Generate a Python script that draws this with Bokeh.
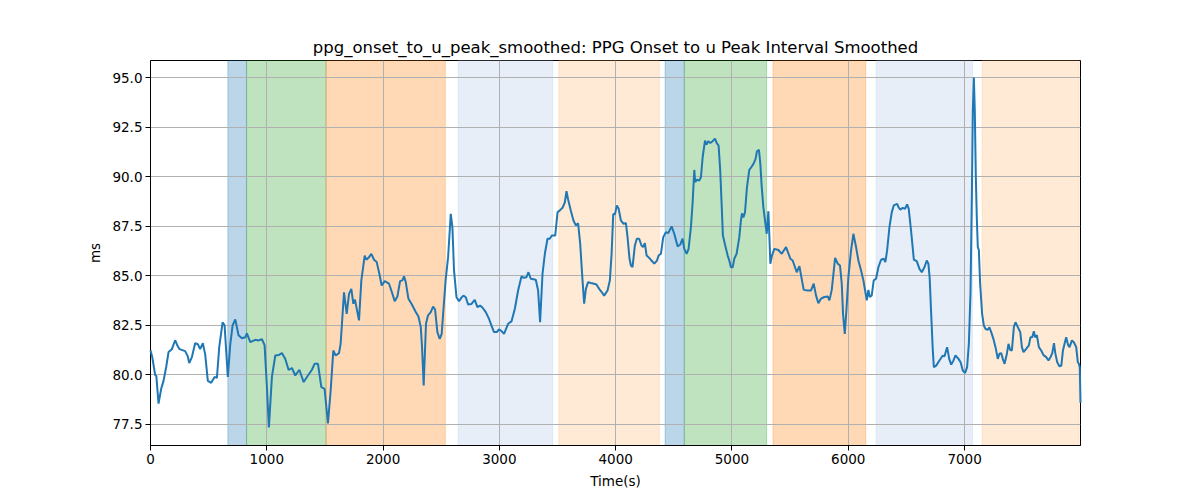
from bokeh.plotting import figure
from bokeh.models import BoxAnnotation, FixedTicker, Range1d, PrintfTickFormatter
from bokeh.embed import file_html
from bokeh.resources import INLINE

# Time (s) and smoothed interval (ms)
time_s = [0, 15, 40, 50, 69, 92, 112, 135, 155, 184, 212, 230, 250, 298, 320, 333, 356, 384, 407, 427,
          450, 470, 493, 522, 551, 571, 591, 620, 637, 665, 686, 706, 729, 757, 786, 815, 829, 858, 901, 929,
          958, 981, 1001, 1018, 1044, 1073, 1102, 1130, 1159, 1188, 1216, 1245, 1280, 1317, 1354, 1388, 1411, 1440, 1469, 1497,
          1526, 1549, 1572, 1592, 1621, 1635, 1664, 1687, 1707, 1727, 1744, 1758, 1793, 1813, 1842, 1856, 1879, 1899, 1922, 1945,
          1965, 1988, 2014, 2051, 2071, 2100, 2123, 2146, 2166, 2180, 2195, 2218, 2244, 2281, 2304, 2324, 2335, 2349, 2369, 2386,
          2410, 2430, 2447, 2467, 2487, 2504, 2519, 2539, 2559, 2582, 2596, 2610, 2631, 2653, 2674, 2691, 2711, 2731, 2760, 2788,
          2811, 2834, 2854, 2883, 2911, 2932, 2954, 2978, 2997, 3020, 3040, 3075, 3104, 3133, 3161, 3190, 3209, 3233, 3250, 3270,
          3313, 3333, 3350, 3371, 3391, 3414, 3433, 3451, 3480, 3500, 3520, 3543, 3563, 3577, 3591, 3614, 3637, 3657, 3677, 3695,
          3715, 3729, 3744, 3763, 3786, 3815, 3835, 3858, 3881, 3901, 3930, 3950, 3965, 3979, 3994, 4010, 4025, 4045, 4068, 4088,
          4102, 4119, 4131, 4145, 4165, 4182, 4202, 4222, 4236, 4251, 4266, 4289, 4308, 4332, 4355, 4369, 4389, 4409, 4432, 4452,
          4481, 4504, 4533, 4556, 4575, 4590, 4610, 4627, 4647, 4661, 4676, 4684, 4699, 4719, 4733, 4748, 4768, 4782, 4796, 4814,
          4834, 4854, 4868, 4885, 4899, 4911, 4922, 4942, 4963, 4977, 4991, 5006, 5020, 5040, 5063, 5077, 5086, 5098, 5112, 5129,
          5149, 5169, 5187, 5203, 5215, 5232, 5244, 5256, 5270, 5284, 5299, 5313, 5322, 5330, 5344, 5364, 5399, 5428, 5465, 5502,
          5522, 5557, 5580, 5617, 5651, 5680, 5703, 5723, 5743, 5766, 5794, 5823, 5838, 5858, 5887, 5910, 5929, 5944, 5955, 5970,
          5984, 6001, 6024, 6044, 6067, 6087, 6110, 6130, 6145, 6159, 6173, 6185, 6202, 6219, 6239, 6259, 6282, 6305, 6319, 6334,
          6354, 6374, 6391, 6420, 6432, 6448, 6468, 6488, 6506, 6520, 6540, 6564, 6589, 6612, 6632, 6655, 6675, 6689, 6700, 6713,
          6727, 6736, 6756, 6784, 6813, 6827, 6850, 6868, 6885, 6905, 6922, 6948, 6966, 6985, 7005, 7022, 7037, 7051, 7063, 7071,
          7080, 7088, 7097, 7106, 7114, 7123, 7134, 7151, 7166, 7180, 7200, 7214, 7229, 7248, 7266, 7286, 7300, 7315, 7329, 7344,
          7364, 7378, 7392, 7407, 7424, 7438, 7458, 7479, 7493, 7507, 7530, 7553, 7567, 7582, 7596, 7607, 7622, 7639, 7659, 7679,
          7702, 7722, 7740, 7754, 7769, 7780, 7797, 7817, 7832, 7846, 7860, 7874, 7889, 7903, 7923, 7940, 7960, 7974, 7983, 7991,
          7997]
interval_ms = [81.25, 80.9, 80.0, 79.95, 78.55, 79.3, 79.7, 80.4, 81.15, 81.3, 81.75, 81.5, 81.3, 81.2, 80.95, 80.6, 80.9, 81.6, 81.55, 81.3,
               81.6, 81.05, 79.7, 79.6, 79.9, 79.85, 81.4, 82.65, 82.5, 79.9, 81.55, 82.5, 82.8, 82.0, 81.85, 81.9, 82.1, 81.65, 81.77, 81.74,
               81.8, 81.5, 79.4, 77.35, 79.9, 80.98, 81.0, 81.1, 80.8, 80.25, 80.35, 79.97, 80.26, 79.64, 79.97, 80.26, 80.56, 80.56, 79.38, 79.3,
               77.55, 79.2, 81.23, 80.98, 81.1, 81.57, 84.17, 83.08, 84.09, 84.34, 83.59, 83.8, 82.75, 84.77, 86.02, 85.81, 85.94, 86.11, 85.81, 85.69,
               85.18, 84.51, 84.73, 84.6, 84.26, 83.72, 83.95, 84.73, 84.77, 84.97, 84.68, 83.84, 83.59, 83.17, 82.95, 82.41, 81.4, 79.47, 82.58, 83.0,
               83.17, 83.45, 83.3, 82.16, 81.82, 82.07, 83.3, 84.85, 85.94, 88.13, 87.45, 85.27, 83.92, 83.72, 83.9, 84.0, 83.92, 83.55, 83.58, 83.79,
               83.42, 83.5, 83.4, 83.17, 82.83, 82.49, 82.16, 82.16, 82.3, 82.2, 82.07, 82.58, 82.7, 83.34, 84.26, 84.97, 84.9, 84.93, 85.18, 84.85,
               84.8, 84.26, 82.66, 85.1, 86.11, 86.87, 86.87, 87.03, 87.03, 88.2, 88.3, 88.43, 88.71, 89.27, 88.85, 88.29, 87.79, 87.54, 87.65, 86.61,
               84.77, 83.59, 84.34, 84.68, 84.64, 84.6, 84.56, 84.34, 84.17, 84.0, 84.26, 84.77, 86.11, 88.12, 88.1, 88.55, 88.4, 87.79, 87.62, 87.66,
               86.95, 85.86, 85.52, 85.44, 86.53, 86.87, 86.87, 86.53, 86.45, 86.65, 86.02, 85.9, 85.77, 85.61, 85.77, 86.02, 86.11, 86.95, 87.2, 87.15,
               87.49, 87.12, 86.48, 86.58, 86.87, 86.36, 86.11, 86.36, 87.45, 88.63, 90.34, 89.72, 89.85, 89.8, 89.97, 90.98, 91.82, 91.62, 91.79, 91.7,
               91.79, 91.92, 91.7, 91.57, 90.31, 88.63, 87.03, 86.53, 86.02, 85.77, 85.43, 85.43, 85.86, 86.11, 86.95, 87.79, 88.15, 87.95, 88.2, 89.47,
               90.34, 90.5, 90.67, 90.9, 91.28, 91.35, 90.63, 89.47, 88.46, 87.79, 87.12, 88.26, 86.95, 85.61, 86.02, 86.36, 86.3, 86.11, 86.45, 85.86,
               85.77, 85.18, 85.48, 84.29, 84.26, 84.26, 84.6, 84.0, 83.62, 83.85, 83.93, 83.96, 83.76, 84.29, 85.9, 85.61, 85.52, 84.6, 83.08, 82.07,
               83.25, 84.93, 86.28, 87.12, 86.45, 85.77, 85.27, 84.77, 84.26, 83.76, 84.29, 83.93, 84.01, 84.77, 84.85, 85.43, 85.81, 85.86, 85.69, 86.28,
               87.45, 88.2, 88.55, 88.63, 88.46, 88.33, 88.43, 88.38, 88.6, 88.38, 87.28, 85.81, 85.74, 85.35, 85.18, 85.43, 85.77, 85.61, 84.9, 83.08,
               81.23, 80.39, 80.47, 80.73, 80.98, 80.93, 81.4, 80.81, 80.52, 80.73, 80.98, 80.81, 80.64, 80.22, 80.1, 80.39, 81.57, 84.09, 89.1, 93.34,
               95.0, 93.34, 89.97, 87.79, 86.45, 86.3, 84.6, 83.08, 82.49, 82.32, 82.28, 82.4, 82.16, 81.82, 81.4, 80.81, 81.07, 81.1, 80.81, 80.56,
               81.07, 81.57, 81.27, 81.23, 82.41, 82.66, 82.41, 82.16, 81.4, 81.15, 81.32, 81.49, 81.9, 81.9, 82.2, 81.9, 82.0, 81.4, 81.23, 81.0,
               80.9, 80.73, 80.9, 81.1, 81.6, 81.1, 80.64, 80.43, 80.47, 81.23, 81.57, 81.9, 81.53, 81.4, 81.74, 81.65, 81.4, 80.64, 80.56, 80.39,
               78.6]

# Shaded phases (start, end) and their colours
span_starts = [665, 826, 1510, 2645, 3511, 4425, 4590, 5353, 6239, 7151]
span_ends = [826, 1510, 2535, 3458, 4375, 4590, 5298, 6150, 7068, 7985]
span_colors = ["#1f77b4", "#2ca02c", "#ff7f0e", "#aec7e8", "#ffbb78",
               "#1f77b4", "#2ca02c", "#ff7f0e", "#aec7e8", "#ffbb78"]

x_ticks = [0, 1000, 2000, 3000, 4000, 5000, 6000, 7000]
y_ticks = [77.5, 80.0, 82.5, 85.0, 87.5, 90.0, 92.5, 95.0]

FONT = "DejaVu Sans"

p = figure(width=1192, height=492, output_backend="svg", toolbar_location=None,
           x_range=Range1d(0, 7997), y_range=Range1d(76.44, 95.86),
           min_border_left=150, min_border_right=112, min_border_top=60, min_border_bottom=47,
           title="ppg_onset_to_u_peak_smoothed: PPG Onset to u Peak Interval Smoothed")

p.background_fill_color = "white"
p.border_fill_color = "white"
p.outline_line_color = "black"
p.outline_line_width = 1

p.title.align = "center"
p.title.text_font = FONT
p.title.text_font_size = "16.5px"
p.title.text_font_style = "normal"
p.title.text_color = "black"
p.title.standoff = 8

for s, e, c in zip(span_starts, span_ends, span_colors):
    p.add_layout(BoxAnnotation(left=s, right=e, fill_color=c, fill_alpha=0.3,
                               line_color=c, line_alpha=0.3, line_width=1, level="underlay"))

for g in (p.xgrid, p.ygrid):
    g.grid_line_color = "#b0b0b0"
    g.grid_line_width = 1
    g.level = "glyph"

p.line(time_s, interval_ms, line_color="#1f77b4", line_width=2, level="overlay")

p.xaxis.ticker = FixedTicker(ticks=x_ticks)
p.yaxis.ticker = FixedTicker(ticks=y_ticks)
p.yaxis.formatter = PrintfTickFormatter(format="%.1f")
p.xaxis.axis_label = "Time(s)"
p.yaxis.axis_label = "ms"

for ax in (p.xaxis, p.yaxis):
    ax.axis_line_color = "black"
    ax.major_tick_line_color = "black"
    ax.major_tick_out = 5
    ax.major_tick_in = 0
    ax.minor_tick_line_color = None
    ax.major_label_text_font = FONT
    ax.major_label_text_font_size = "13.5px"
    ax.major_label_text_color = "black"
    ax.axis_label_text_font = FONT
    ax.axis_label_text_font_size = "13.5px"
    ax.axis_label_text_font_style = "normal"
    ax.axis_label_text_color = "black"
    ax.major_label_standoff = 3

p.xaxis.axis_label_standoff = 6
p.yaxis.axis_label_standoff = 6

open("out.html", "w").write(file_html(p, INLINE))
